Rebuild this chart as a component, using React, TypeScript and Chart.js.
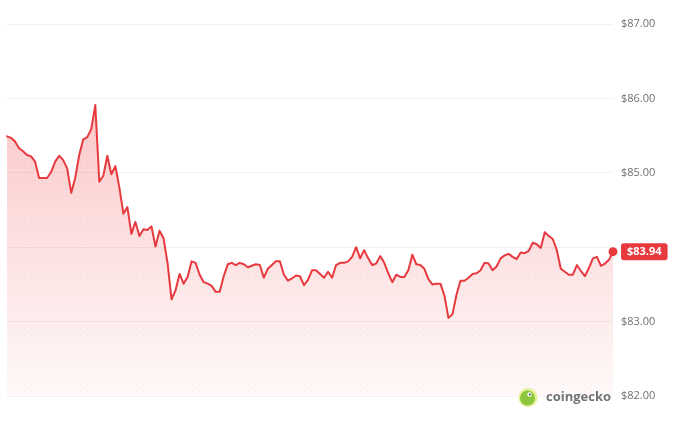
import { useEffect, useRef } from 'react';
import { Chart, registerables } from 'chart.js';

Chart.register(...registerables);

// ---- data ----
const prices: number[] = [
  85.49, 85.47, 85.42, 85.33, 85.29, 85.24, 85.22, 85.15, 84.93, 84.93,
  84.93, 85.01, 85.15, 85.23, 85.17, 85.06, 84.73, 84.93, 85.24, 85.45,
  85.48, 85.59, 85.91, 84.88, 84.96, 85.23, 84.98, 85.09, 84.80, 84.45,
  84.54, 84.18, 84.34, 84.15, 84.24, 84.23, 84.28, 84.01, 84.22, 84.12,
  83.79, 83.30, 83.42, 83.64, 83.51, 83.60, 83.81, 83.79, 83.63, 83.53,
  83.51, 83.48, 83.40, 83.40, 83.61, 83.77, 83.79, 83.76, 83.79, 83.77,
  83.73, 83.75, 83.77, 83.76, 83.59, 83.71, 83.76, 83.81, 83.81, 83.63,
  83.55, 83.58, 83.62, 83.61, 83.49, 83.56, 83.69, 83.69, 83.64, 83.59,
  83.67, 83.59, 83.76, 83.79, 83.79, 83.81, 83.87, 84.00, 83.85, 83.96,
  83.85, 83.76, 83.78, 83.88, 83.79, 83.65, 83.53, 83.63, 83.60, 83.60,
  83.69, 83.90, 83.77, 83.76, 83.71, 83.57, 83.50, 83.51, 83.51, 83.35,
  83.05, 83.10, 83.36, 83.55, 83.55, 83.59, 83.64, 83.65, 83.69, 83.79,
  83.78, 83.69, 83.74, 83.85, 83.89, 83.91, 83.87, 83.84, 83.93, 83.92,
  83.95, 84.06, 84.04, 83.99, 84.20, 84.15, 84.11, 83.96, 83.71, 83.67,
  83.63, 83.63, 83.76, 83.68, 83.61, 83.72, 83.85, 83.87, 83.75, 83.78,
  83.83, 83.94,
];
const timeLabels: string[] = prices.map((_, i) => String(i));
const yTicks: number[] = [82, 83, 84, 85, 86, 87];
const yMin = 82;
const yMax = 87;
const lastPriceLabel = '$83.94';
const brandText = 'coingecko';

const RED = '#e63a3f';
const lastPrice = prices[prices.length - 1];

let fillCache: { key: string; pattern: CanvasPattern | null } | null = null;

function makeFill(chart: any): CanvasPattern | string {
  const area = chart.chartArea;
  if (!area) return 'rgba(230,58,63,0.15)';
  const key = `${chart.width}x${chart.height}-${area.top}-${area.bottom}-${area.left}-${area.right}`;
  if (fillCache && fillCache.key === key && fillCache.pattern) return fillCache.pattern;
  const off = document.createElement('canvas');
  off.width = chart.width;
  off.height = chart.height;
  const o = off.getContext('2d')!;
  const g = o.createLinearGradient(0, area.top, 0, area.bottom);
  g.addColorStop(0, 'rgba(240,60,60,0.36)');
  g.addColorStop(0.45, 'rgba(240,60,60,0.2)');
  g.addColorStop(0.8, 'rgba(240,60,60,0.09)');
  g.addColorStop(1, 'rgba(240,60,60,0.03)');
  o.fillStyle = g;
  o.fillRect(0, 0, off.width, off.height);
  o.fillStyle = 'rgba(230,58,63,0.07)';
  for (let y = area.top + 3; y < area.bottom; y += 7) {
    for (let x = area.left + 3; x < area.right; x += 7) {
      o.fillRect(x, y, 1, 1);
    }
  }
  const pattern = chart.ctx.createPattern(off, 'no-repeat');
  fillCache = { key, pattern };
  return pattern || 'rgba(230,58,63,0.15)';
}

const overlayPlugin = {
  id: 'overlay',
  afterDraw(chart: any) {
    const ctx: CanvasRenderingContext2D = chart.ctx;
    const area = chart.chartArea;
    const meta = chart.getDatasetMeta(0);
    const last = meta.data[meta.data.length - 1];
    if (!last) return;
    ctx.save();
    // current price badge
    ctx.font = 'bold 11px "Open Sans"';
    const tw = ctx.measureText(lastPriceLabel).width;
    const bw = tw + 12;
    const bh = 17;
    const bx = area.right + 8;
    const by = last.y - bh / 2;
    ctx.fillStyle = RED;
    ctx.beginPath();
    (ctx as any).roundRect(bx, by, bw, bh, 3);
    ctx.fill();
    ctx.fillStyle = '#ffffff';
    ctx.textAlign = 'left';
    ctx.textBaseline = 'middle';
    ctx.fillText(lastPriceLabel, bx + 6, last.y + 0.5);

    // brand watermark
    const lx = area.right - 85;
    const ly = area.bottom + 1.5;
    ctx.fillStyle = 'rgba(222,240,130,0.85)';
    ctx.beginPath();
    ctx.arc(lx, ly, 9.5, 0, Math.PI * 2);
    ctx.fill();
    ctx.fillStyle = '#8cc63f';
    ctx.beginPath();
    ctx.arc(lx - 0.5, ly + 0.5, 7.5, 0, Math.PI * 2);
    ctx.fill();
    ctx.fillStyle = '#ffffff';
    ctx.beginPath();
    ctx.arc(lx + 1.5, ly - 3, 2.2, 0, Math.PI * 2);
    ctx.fill();
    ctx.fillStyle = '#3a3a3a';
    ctx.beginPath();
    ctx.arc(lx + 1.8, ly - 3, 1, 0, Math.PI * 2);
    ctx.fill();

    ctx.font = 'bold 13px "Open Sans"';
    ctx.fillStyle = '#737373';
    ctx.textBaseline = 'middle';
    ctx.fillText(brandText, lx + 18, ly);
    ctx.restore();
  },
};

export default function App() {
  const ref = useRef<HTMLCanvasElement | null>(null);

  useEffect(() => {
    document.body.style.margin = '0';
    const canvas = ref.current;
    if (!canvas) return;
    const lastIndex = prices.length - 1;
    const chart = new Chart(canvas, {
      type: 'line',
      data: {
        labels: timeLabels,
        datasets: [
          {
            data: prices,
            borderColor: RED,
            borderWidth: 2,
            tension: 0,
            borderJoinStyle: 'round',
            borderCapStyle: 'round',
            fill: 'start',
            backgroundColor: (c: any) => makeFill(c.chart),
            pointRadius: (c: any) => (c.dataIndex === lastIndex ? 4.5 : 0),
            pointHoverRadius: 0,
            pointBackgroundColor: RED,
            pointBorderWidth: 0,
            clip: false,
          } as any,
        ],
      },
      options: {
        responsive: false,
        animation: false,
        maintainAspectRatio: false,
        layout: { padding: { left: 7, top: 24, bottom: 31, right: 0 } },
        plugins: {
          legend: { display: false },
          tooltip: { enabled: false },
        },
        scales: {
          x: {
            type: 'category',
            display: false,
            offset: false,
          },
          y: {
            position: 'right',
            min: yMin,
            max: yMax,
            afterBuildTicks: (axis: any) => {
              axis.ticks = yTicks.map((v) => ({ value: v }));
            },
            afterFit: (axis: any) => {
              axis.width = 68;
            },
            border: { display: false },
            grid: {
              color: 'rgba(0,0,0,0.05)',
              drawTicks: false,
              lineWidth: 1,
            },
            ticks: {
              padding: 8,
              color: '#707070',
              font: { family: '"Open Sans"', size: 11 },
              // the label under the current-price badge is not shown
              callback: (v: any) =>
                Math.abs(Number(v) - lastPrice) < 0.15 ? '' : '$' + Number(v).toFixed(2),
            },
          },
        },
      },
      plugins: [overlayPlugin],
    });
    return () => chart.destroy();
  }, []);

  return (
    <div style={{ width: 681, height: 427, background: '#ffffff' }}>
      <canvas ref={ref} width={681} height={427} style={{ display: 'block' }} />
    </div>
  );
}
